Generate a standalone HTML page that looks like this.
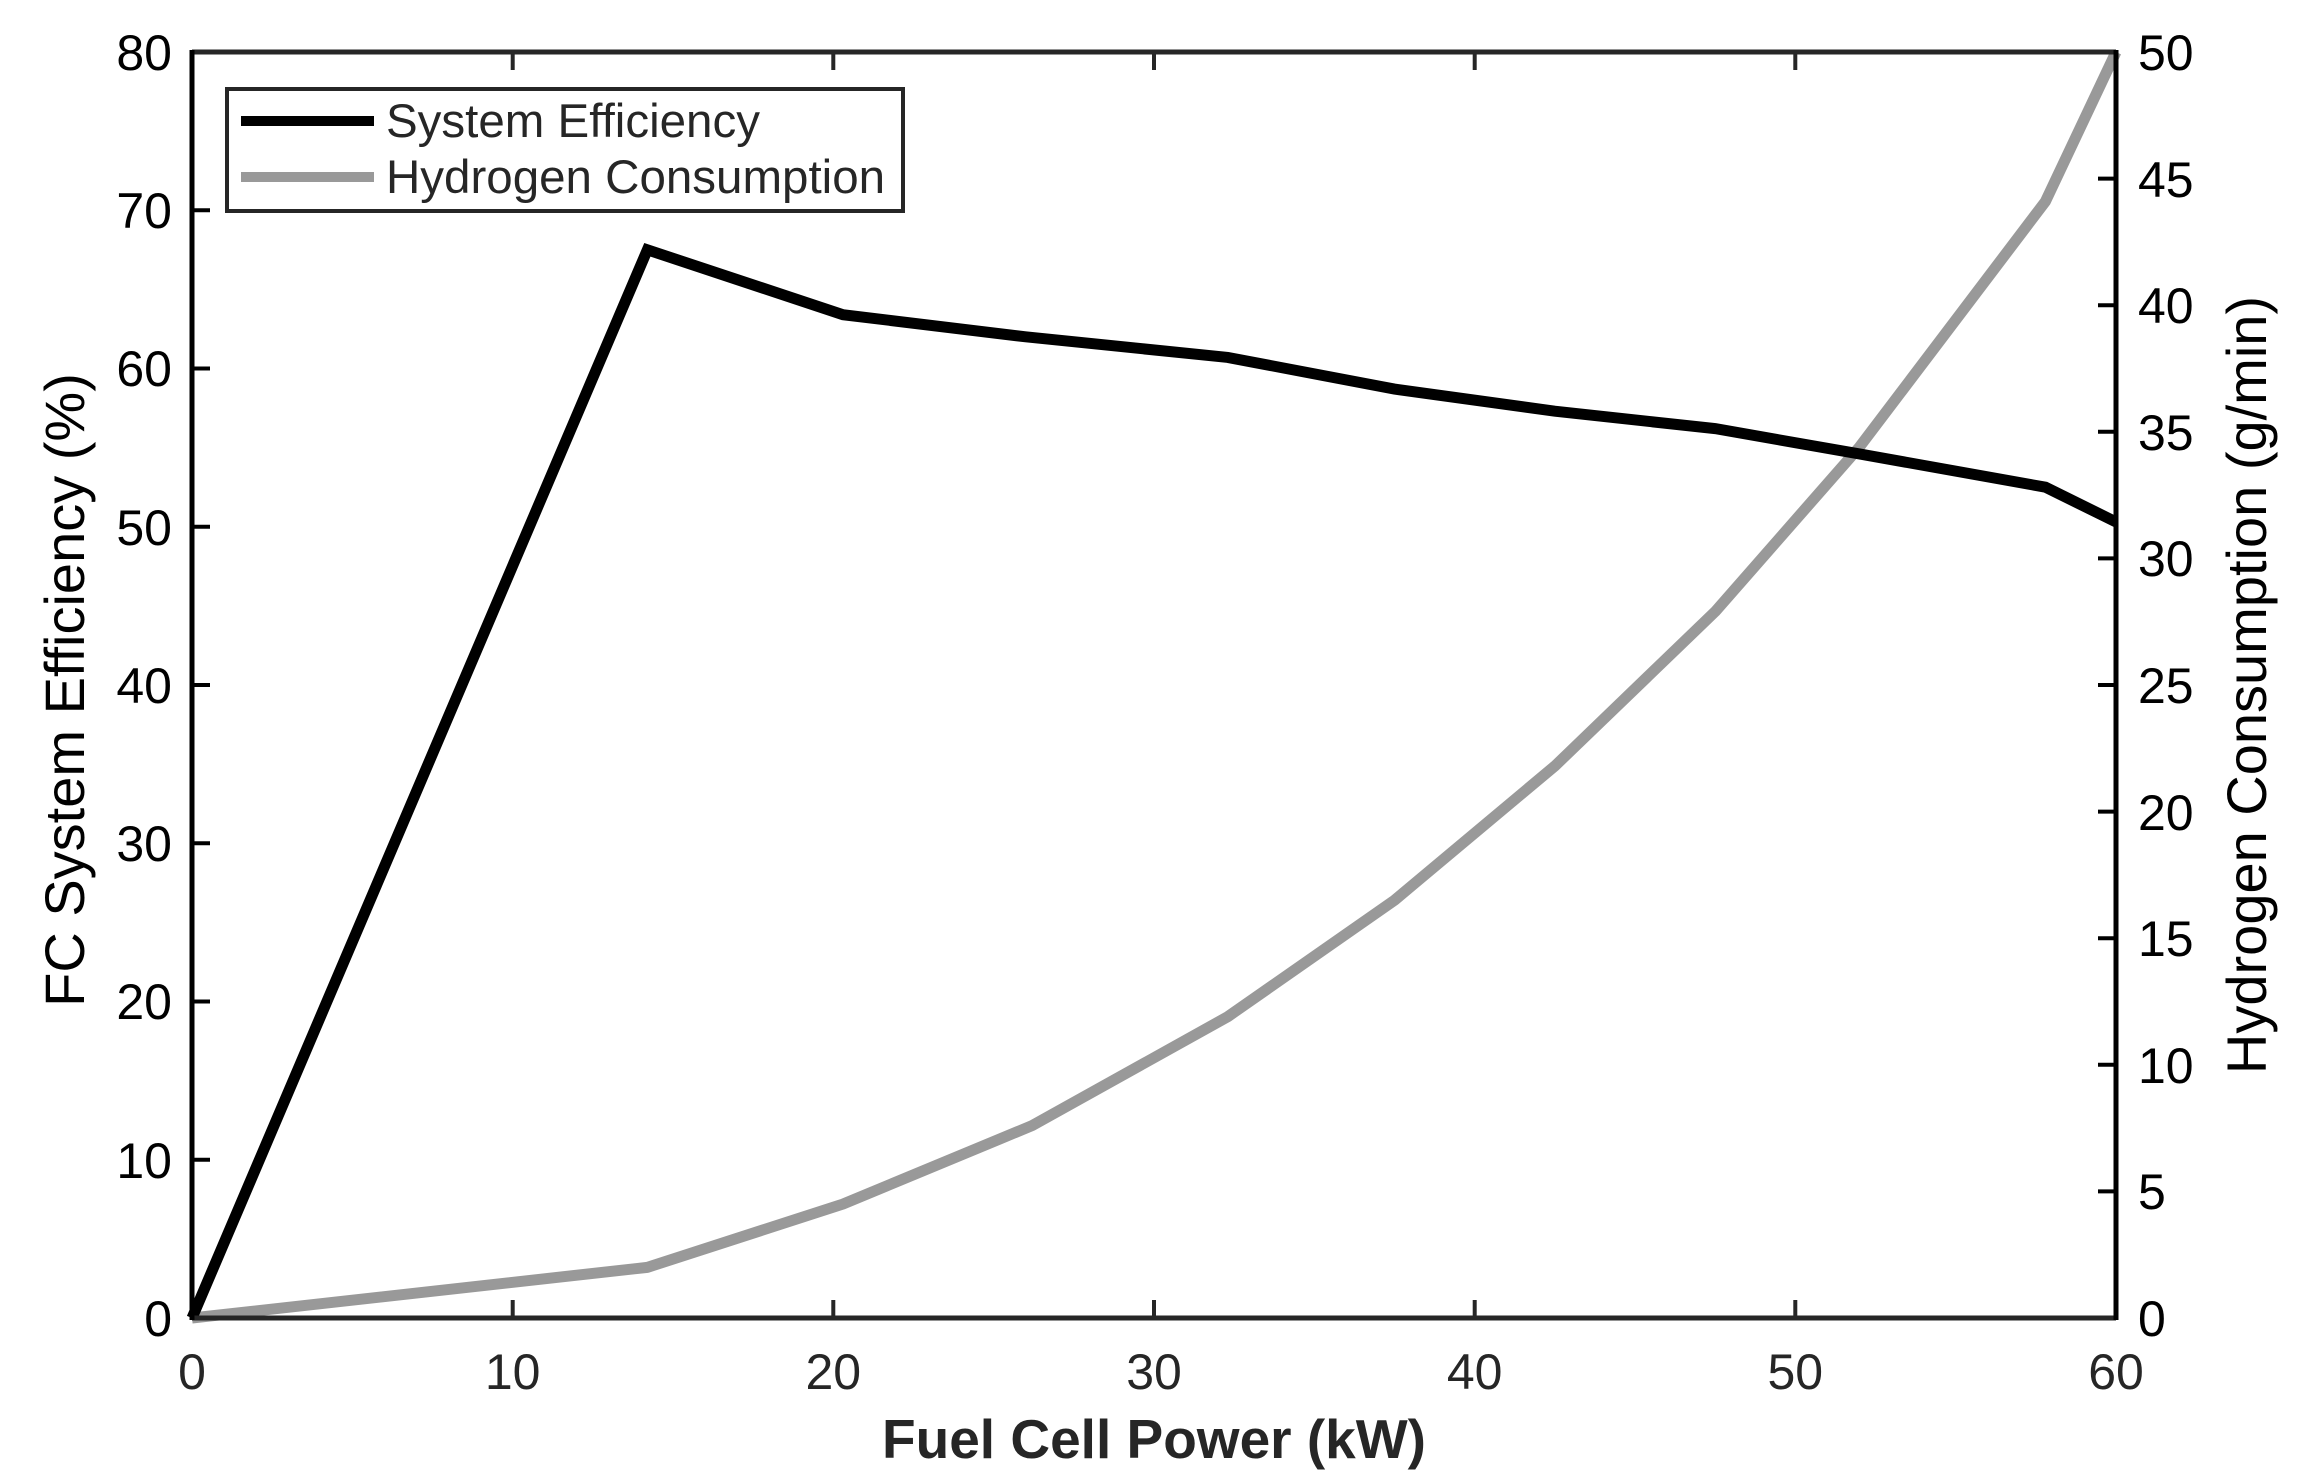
<!DOCTYPE html>
<html><head><style>body{margin:0;background:#fff}svg{display:block}text{font-family:"Liberation Sans",Arial,sans-serif;fill:#262626}</style></head>
<body>
<svg width="2297" height="1481" viewBox="0 0 2297 1481" xmlns="http://www.w3.org/2000/svg">
<rect width="2297" height="1481" fill="#fff"/>
<g stroke="#262626" stroke-width="4">
<path d="M512.7,52v18M833.3,52v18M1154,52v18M1474.7,52v18M1795.3,52v18M512.7,1318v-18M833.3,1318v-18M1154,1318v-18M1474.7,1318v-18M1795.3,1318v-18"/>
</g>
<g stroke="#000" stroke-width="4">
<path d="M192,52h18M192,210.25h18M192,368.5h18M192,526.75h18M192,685h18M192,843.25h18M192,1001.5h18M192,1159.75h18"/>
<path d="M2116,1318h-18M2116,1191.4h-18M2116,1064.8h-18M2116,938.2h-18M2116,811.6h-18M2116,685h-18M2116,558.4h-18M2116,431.8h-18M2116,305.2h-18M2116,178.6h-18M2116,52h-18"/>
</g>
<polyline transform="translate(192,1318) scale(32.067,-25.32)" vector-effect="non-scaling-stroke" fill="none" stroke="#999" stroke-width="11" stroke-linejoin="round"
points="0,0 14.2,2.0 20.3,4.5 26.2,7.6 32.3,11.9 37.5,16.5 42.5,21.8 47.5,27.9 52,34.4 57.8,44.1 60,50"/>
<polyline transform="translate(192,1318) scale(32.067,-15.825)" vector-effect="non-scaling-stroke" fill="none" stroke="#000" stroke-width="11" stroke-linejoin="miter"
points="0,0 14.2,67.5 20.3,63.4 26,62 32.3,60.7 37.5,58.7 42.5,57.3 47.5,56.2 52,54.6 57.8,52.5 60,50.3"/>
<path d="M192,1318H2116M192,52H2116" stroke="#262626" stroke-width="5" fill="none"/>
<path d="M192,50V1320M2116,50V1320" stroke="#000" stroke-width="5" fill="none"/>
<rect x="227" y="89" width="676" height="122" fill="#fff" stroke="#262626" stroke-width="4"/>
<line x1="241" y1="121" x2="374" y2="121" stroke="#000" stroke-width="10"/>
<line x1="241" y1="177" x2="374" y2="177" stroke="#999" stroke-width="10"/>
<text x="386" y="137" font-size="47.5">System Efficiency</text>
<text x="386" y="193" font-size="47.5">Hydrogen Consumption</text>
<g font-size="50" text-anchor="middle">
<text x="192" y="1389">0</text><text x="512.7" y="1389">10</text><text x="833.3" y="1389">20</text><text x="1154" y="1389">30</text><text x="1474.7" y="1389">40</text><text x="1795.3" y="1389">50</text><text x="2116" y="1389">60</text>
</g>
<g font-size="50" text-anchor="end">
<text x="172" y="1336" style="fill:#000">0</text><text x="172" y="1178" style="fill:#000">10</text><text x="172" y="1019" style="fill:#000">20</text><text x="172" y="861" style="fill:#000">30</text><text x="172" y="703" style="fill:#000">40</text><text x="172" y="545" style="fill:#000">50</text><text x="172" y="386" style="fill:#000">60</text><text x="172" y="228" style="fill:#000">70</text><text x="172" y="70" style="fill:#000">80</text>
</g>
<g font-size="50" text-anchor="start">
<text x="2138" y="1336" style="fill:#000">0</text><text x="2138" y="1209" style="fill:#000">5</text><text x="2138" y="1083" style="fill:#000">10</text><text x="2138" y="956" style="fill:#000">15</text><text x="2138" y="830" style="fill:#000">20</text><text x="2138" y="703" style="fill:#000">25</text><text x="2138" y="576" style="fill:#000">30</text><text x="2138" y="450" style="fill:#000">35</text><text x="2138" y="323" style="fill:#000">40</text><text x="2138" y="197" style="fill:#000">45</text><text x="2138" y="70" style="fill:#000">50</text>
</g>
<text x="1154" y="1458" font-size="55" font-weight="bold" text-anchor="middle">Fuel Cell Power (kW)</text>
<text transform="translate(84,690) rotate(-90)" font-size="56" text-anchor="middle" style="fill:#000">FC System Efficiency (%)</text>
<text transform="translate(2266,685) rotate(-90)" font-size="56" text-anchor="middle" style="fill:#000">Hydrogen Consumption (g/min)</text>
</svg>
</body></html>
